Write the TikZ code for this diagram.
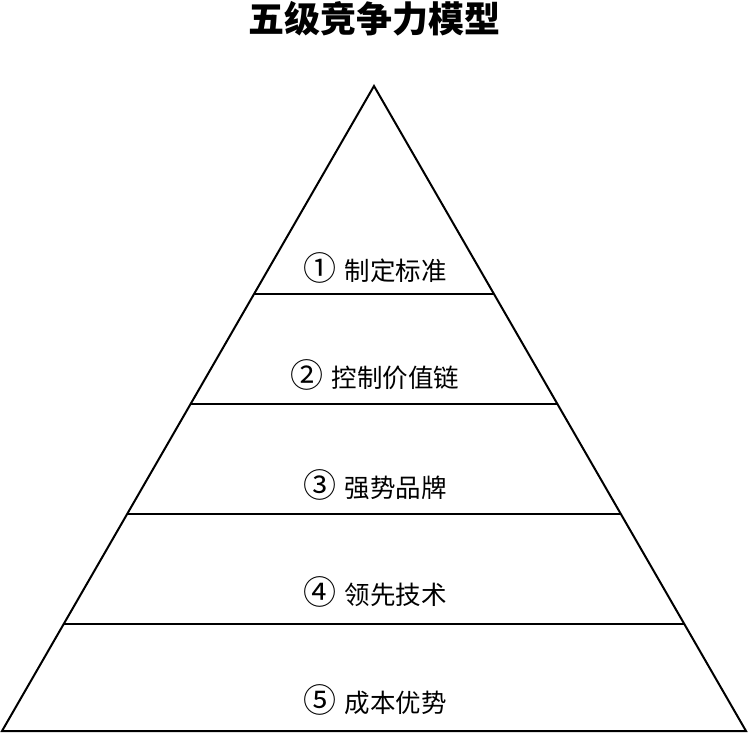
\documentclass[tikz,border=0pt]{standalone}
\usepackage{fontspec}
\newfontfamily\cjk{Noto Sans CJK SC}
\usetikzlibrary{calc}
\newcommand{\circnum}[1]{{\fontsize{33}{34}\selectfont #1}\hspace{8pt}}

\begin{document}
\begin{tikzpicture}[
        x=1pt, y=-1pt,
        every node/.style={font=\cjk\fontsize{25.5}{28}\selectfont, text centered},
        outline/.style={line width=2pt, line join=miter},
        layer/.style={line width=1.3pt},
        title/.style={font=\cjk\bfseries\fontsize{36}{40}\selectfont},
    ]
    \useasboundingbox (0,0) rectangle (749,733);

    \coordinate (top) at (374,86);
    \coordinate (bl) at (2,731);
    \coordinate (br) at (746,731);

    \node[title](t) at (374,19) {五级竞争力模型};

    \draw[outline] (top) -- (bl) -- (br) -- cycle;
    \foreach \y in {294,404,514,624}
        \draw[layer] ($(top)!{(\y-86)/645}!(bl)$) -- ($(top)!{(\y-86)/645}!(br)$);

    \node(s1) at (375,268) {\circnum{①}制定标准};
    \node(s2) at (375,375) {\circnum{②}控制价值链};
    \node(s3) at (375,485) {\circnum{③}强势品牌};
    \node(s4) at (375,592) {\circnum{④}领先技术};
    \node(s5) at (375,700) {\circnum{⑤}成本优势};
\end{tikzpicture}
\end{document}
